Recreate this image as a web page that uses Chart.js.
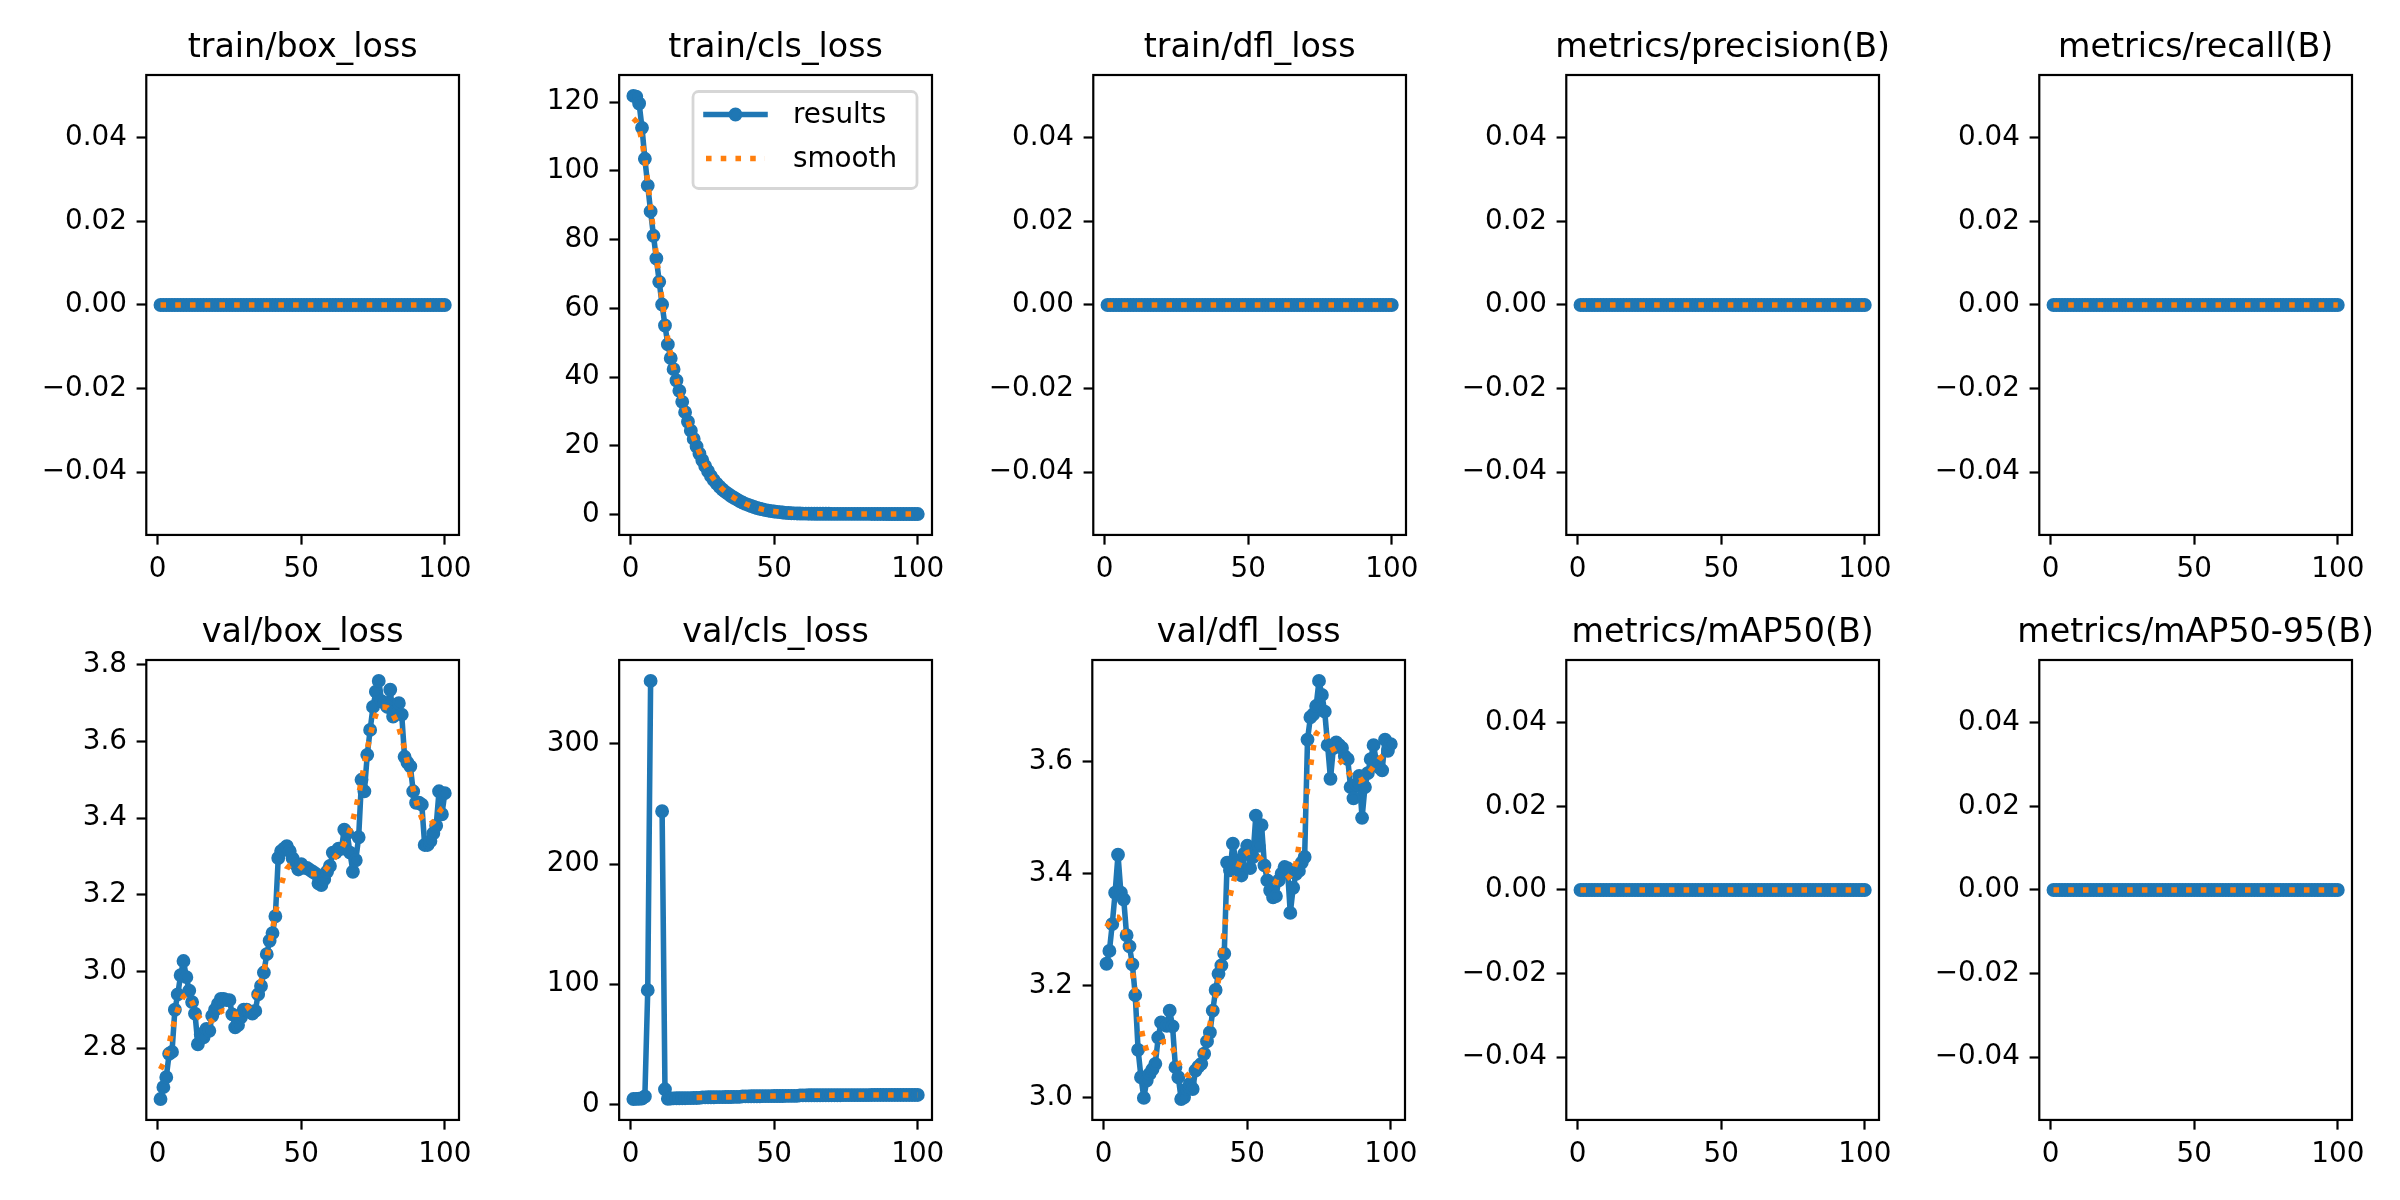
<!DOCTYPE html>
<html>
<head>
<meta charset="utf-8">
<script src="https://cdn.jsdelivr.net/npm/chart.js@4.4.1/dist/chart.umd.min.js"></script>
<style>
html, body { margin: 0; padding: 0; background: #ffffff; width: 2400px; height: 1200px; overflow: hidden; position: relative; }
canvas { position: absolute; }
</style>
</head>
<body>
<script>
// ---------------- DATA ----------------
const epochs = [
  1,2,3,4,5,6,7,8,9,10,
  11,12,13,14,15,16,17,18,19,20,
  21,22,23,24,25,26,27,28,29,30,
  31,32,33,34,35,36,37,38,39,40,
  41,42,43,44,45,46,47,48,49,50,
  51,52,53,54,55,56,57,58,59,60,
  61,62,63,64,65,66,67,68,69,70,
  71,72,73,74,75,76,77,78,79,80,
  81,82,83,84,85,86,87,88,89,90,
  91,92,93,94,95,96,97,98,99,100
];

const zeroSeries = [
  0,0,0,0,0,0,0,0,0,0,
  0,0,0,0,0,0,0,0,0,0,
  0,0,0,0,0,0,0,0,0,0,
  0,0,0,0,0,0,0,0,0,0,
  0,0,0,0,0,0,0,0,0,0,
  0,0,0,0,0,0,0,0,0,0,
  0,0,0,0,0,0,0,0,0,0,
  0,0,0,0,0,0,0,0,0,0,
  0,0,0,0,0,0,0,0,0,0,
  0,0,0,0,0,0,0,0,0,0
];

const trainClsLoss = [
  121.8,121.6,119.6,112.5,103.5,95.7,88.2,81.1,74.5,67.7,
  61.1,55.0,49.5,45.5,42.3,39.0,36.0,32.8,29.8,27.0,
  24.4,22.0,19.8,17.7,15.8,14.1,12.6,11.2,10.0,9.0,
  8.1,7.3,6.6,6.0,5.4,4.9,4.4,3.9,3.5,3.1,
  2.8,2.5,2.2,1.9,1.7,1.5,1.3,1.15,1.0,0.9,
  0.8,0.7,0.6,0.5,0.45,0.4,0.36,0.33,0.3,0.28,
  0.27,0.26,0.26,0.25,0.25,0.24,0.24,0.23,0.23,0.22,
  0.22,0.22,0.21,0.21,0.21,0.2,0.2,0.2,0.2,0.19,
  0.19,0.19,0.19,0.18,0.18,0.18,0.18,0.18,0.17,0.17,
  0.17,0.17,0.17,0.17,0.16,0.16,0.16,0.16,0.16,0.16
];
const trainClsSmooth = [
  115.2,114.4,112.3,108.6,103.4,96.8,89.6,82.4,75.4,68.7,
  62.3,56.4,51.0,46.5,42.7,39.3,36.1,33.0,30.1,27.3,
  24.7,22.3,20.1,18.0,16.1,14.4,12.9,11.5,10.3,9.2,
  8.3,7.4,6.7,6.0,5.4,4.9,4.4,3.95,3.55,3.15,
  2.8,2.5,2.2,1.95,1.72,1.52,1.34,1.18,1.04,0.92,
  0.81,0.71,0.62,0.55,0.49,0.44,0.39,0.35,0.32,0.3,
  0.28,0.27,0.26,0.25,0.25,0.24,0.24,0.23,0.23,0.22,
  0.22,0.22,0.21,0.21,0.21,0.2,0.2,0.2,0.2,0.19,
  0.19,0.19,0.19,0.18,0.18,0.18,0.18,0.18,0.17,0.17,
  0.17,0.17,0.17,0.17,0.17,0.16,0.16,0.16,0.16,0.16
];

const valBoxLoss = [
  2.667,2.698,2.724,2.785,2.79,2.90,2.94,2.99,3.027,2.985,
  2.95,2.92,2.89,2.81,2.836,2.828,2.85,2.845,2.884,2.90,
  2.915,2.928,2.928,2.925,2.925,2.888,2.854,2.86,2.88,2.90,
  2.90,2.895,2.89,2.897,2.94,2.962,2.997,3.045,3.08,3.10,
  3.144,3.296,3.314,3.32,3.327,3.314,3.295,3.28,3.266,3.28,
  3.27,3.27,3.265,3.26,3.255,3.23,3.225,3.24,3.26,3.275,
  3.31,3.31,3.32,3.32,3.37,3.36,3.31,3.26,3.29,3.35,
  3.50,3.47,3.565,3.63,3.69,3.73,3.758,3.705,3.70,3.69,
  3.735,3.665,3.68,3.70,3.67,3.56,3.545,3.535,3.47,3.44,
  3.44,3.435,3.33,3.33,3.34,3.36,3.38,3.47,3.41,3.465
];
const valBoxSmooth = [
  2.745,2.76,2.78,2.81,2.845,2.875,2.90,2.92,2.935,2.94,
  2.935,2.92,2.90,2.885,2.875,2.87,2.868,2.868,2.872,2.88,
  2.89,2.895,2.898,2.897,2.894,2.89,2.888,2.888,2.892,2.898,
  2.903,2.91,2.92,2.935,2.955,2.975,3.0,3.035,3.07,3.11,
  3.15,3.19,3.225,3.25,3.268,3.277,3.28,3.28,3.278,3.272,
  3.265,3.26,3.256,3.255,3.255,3.256,3.258,3.262,3.27,3.28,
  3.29,3.30,3.31,3.32,3.335,3.35,3.37,3.395,3.425,3.46,
  3.50,3.54,3.58,3.615,3.645,3.67,3.685,3.69,3.69,3.688,
  3.68,3.67,3.655,3.635,3.61,3.58,3.545,3.51,3.475,3.445,
  3.42,3.40,3.39,3.385,3.385,3.39,3.40,3.415,3.425,3.43
];

const valClsLoss = [
  4.4,4.5,4.6,4.8,6.5,95,352.5,null,null,null,
  244,12.5,4.6,4.8,4.9,5.0,5.0,5.1,5.1,5.2,
  5.2,5.3,5.3,5.4,5.8,5.8,5.9,5.9,5.9,6.0,
  6.0,6.0,6.1,6.1,6.1,6.2,6.2,6.2,6.6,6.6,
  6.6,6.7,6.7,6.7,6.7,6.8,6.8,6.8,6.8,6.9,
  6.9,6.9,6.9,7.0,7.0,7.0,7.0,7.0,7.4,7.4,
  7.4,7.5,7.5,7.5,7.5,7.5,7.6,7.6,7.6,7.6,
  7.6,7.6,7.6,7.7,7.7,7.7,7.7,7.7,7.7,7.7,
  7.7,7.7,7.7,7.8,7.8,7.8,7.8,7.8,7.8,7.8,
  7.8,7.8,7.8,7.8,7.8,7.8,7.8,7.8,7.8,7.8
];
const valClsSmooth = [
  null,null,null,null,null,null,null,null,null,null,
  null,null,null,null,null,null,null,null,null,null,
  null,null,5.6,5.65,5.7,5.75,5.8,5.85,5.9,5.95,
  6.0,6.05,6.1,6.15,6.2,6.25,6.3,6.35,6.4,6.45,
  6.5,6.55,6.6,6.65,6.7,6.75,6.8,6.82,6.85,6.88,
  6.9,6.93,6.96,7.0,7.05,7.1,7.15,7.2,7.25,7.3,
  7.35,7.4,7.45,7.5,7.52,7.55,7.57,7.6,7.6,7.62,
  7.63,7.64,7.65,7.66,7.67,7.68,7.69,7.7,7.7,7.71,
  7.72,7.73,7.74,7.75,7.76,7.77,7.78,7.78,7.79,7.79,
  7.8,7.8,7.8,7.8,7.8,7.8,7.8,7.8,7.8,7.8
];

const valDflLoss = [
  3.239,3.262,3.31,3.366,3.434,3.366,3.354,3.29,3.27,3.238,
  3.183,3.085,3.036,2.999,3.03,3.042,3.05,3.06,3.107,3.134,
  3.13,3.128,3.155,3.127,3.054,3.036,2.997,3.0,3.015,3.024,
  3.015,3.048,3.055,3.06,3.078,3.10,3.116,3.155,3.192,3.221,
  3.236,3.257,3.42,3.406,3.454,3.424,3.41,3.397,3.436,3.45,
  3.41,3.43,3.504,3.45,3.487,3.415,3.388,3.37,3.358,3.36,
  3.388,3.40,3.412,3.41,3.33,3.375,3.40,3.405,3.42,3.43,
  3.64,3.68,3.685,3.70,3.745,3.72,3.69,3.63,3.57,3.625,
  3.635,3.63,3.625,3.61,3.605,3.555,3.535,3.56,3.575,3.50,
  3.555,3.58,3.605,3.63,3.60,3.59,3.585,3.64,3.62,3.632
];
const valDflSmooth = [
  3.305,3.312,3.318,3.322,3.322,3.315,3.302,3.28,3.255,3.225,
  3.19,3.155,3.125,3.10,3.083,3.075,3.074,3.08,3.09,3.097,
  3.10,3.10,3.097,3.088,3.076,3.063,3.052,3.045,3.04,3.039,
  3.042,3.05,3.06,3.074,3.09,3.107,3.13,3.155,3.18,3.21,
  3.255,3.30,3.335,3.36,3.382,3.40,3.415,3.427,3.434,3.438,
  3.439,3.437,3.434,3.43,3.425,3.415,3.405,3.395,3.388,3.385,
  3.384,3.385,3.388,3.392,3.397,3.405,3.42,3.45,3.48,3.515,
  3.55,3.59,3.625,3.65,3.657,3.657,3.652,3.642,3.632,3.622,
  3.612,3.605,3.598,3.59,3.583,3.577,3.572,3.568,3.566,3.568,
  3.572,3.578,3.585,3.592,3.598,3.605,3.61,3.614,3.617,3.618
];

const panelTitles = [
  'train/box_loss', 'train/cls_loss', 'train/dfl_loss', 'metrics/precision(B)', 'metrics/recall(B)',
  'val/box_loss', 'val/cls_loss', 'val/dfl_loss', 'metrics/mAP50(B)', 'metrics/mAP50-95(B)'
];
const seriesLabels = ['results', 'smooth'];

const xTicks = [0, 50, 100];
const xTickLabels = ['0', '50', '100'];

const zeroTicks = [-0.04, -0.02, 0, 0.02, 0.04];
const zeroTickLabels = ['\u22120.04', '\u22120.02', '0.00', '0.02', '0.04'];
const trainClsTicks = [0, 20, 40, 60, 80, 100, 120];
const trainClsTickLabels = ['0', '20', '40', '60', '80', '100', '120'];
const valBoxTicks = [2.8, 3.0, 3.2, 3.4, 3.6, 3.8];
const valBoxTickLabels = ['2.8', '3.0', '3.2', '3.4', '3.6', '3.8'];
const valClsTicks = [0, 100, 200, 300];
const valClsTickLabels = ['0', '100', '200', '300'];
const valDflTicks = [3.0, 3.2, 3.4, 3.6];
const valDflTickLabels = ['3.0', '3.2', '3.4', '3.6'];

// ---------------- STYLE / LAYOUT ----------------
const FONT = '"DejaVu Sans", "Liberation Sans", sans-serif';
const BLUE = '#1f77b4';
const ORANGE = '#ff7f0e';
const LW = 5.56;
const TICK_FONT = 27.8;
const TITLE_FONT = 33.3;
const AREA_W = 313;
const AREA_H = 459.5;
const colLeft = [146, 619.4, 1092.8, 1566.2, 2039.6];
const rowTop = [75.2, 659.5];

const panels = [
  { results: zeroSeries,   smooth: zeroSeries,     yTicks: zeroTicks,     yLabels: zeroTickLabels, legend: false },
  { results: trainClsLoss, smooth: trainClsSmooth, yTicks: trainClsTicks, yLabels: trainClsTickLabels, legend: true },
  { results: zeroSeries,   smooth: zeroSeries,     yTicks: zeroTicks,     yLabels: zeroTickLabels, legend: false },
  { results: zeroSeries,   smooth: zeroSeries,     yTicks: zeroTicks,     yLabels: zeroTickLabels, legend: false },
  { results: zeroSeries,   smooth: zeroSeries,     yTicks: zeroTicks,     yLabels: zeroTickLabels, legend: false },
  { results: valBoxLoss,   smooth: valBoxSmooth,   yTicks: valBoxTicks,   yLabels: valBoxTickLabels, legend: false },
  { results: valClsLoss,   smooth: valClsSmooth,   yTicks: valClsTicks,   yLabels: valClsTickLabels, legend: false },
  { results: valDflLoss,   smooth: valDflSmooth,   yTicks: valDflTicks,   yLabels: valDflTickLabels, legend: false },
  { results: zeroSeries,   smooth: zeroSeries,     yTicks: zeroTicks,     yLabels: zeroTickLabels, legend: false },
  { results: zeroSeries,   smooth: zeroSeries,     yTicks: zeroTicks,     yLabels: zeroTickLabels, legend: false }
];

// matplotlib-like autoscale: 5% margins, flat data expanded
function autoRange(arrays) {
  const vals = [];
  arrays.forEach(a => a.forEach(v => { if (v !== null && v !== undefined) vals.push(v); }));
  let lo = Math.min(...vals), hi = Math.max(...vals);
  if (hi - lo === 0) {
    const d = lo === 0 ? 0.05 : Math.abs(lo) * 0.05;
    lo -= d; hi += d;
  }
  const m = (hi - lo) * 0.05;
  return [lo - m, hi + m];
}

// ---------------- PLUGINS ----------------
const framePlugin = {
  id: 'axesFrame',
  afterDatasetsDraw(chart) {
    const { ctx, chartArea: a } = chart;
    ctx.save();
    ctx.strokeStyle = '#000000';
    ctx.lineWidth = 2.2;
    ctx.strokeRect(a.left, a.top, a.right - a.left, a.bottom - a.top);
    ctx.restore();
  }
};

const titlePlugin = {
  id: 'panelTitle',
  afterDraw(chart, args, opts) {
    if (!opts || !opts.text) return;
    const { ctx, chartArea: a } = chart;
    ctx.save();
    ctx.fillStyle = '#000000';
    ctx.font = TITLE_FONT + 'px ' + FONT;
    ctx.textAlign = 'center';
    ctx.textBaseline = 'alphabetic';
    ctx.fillText(opts.text, (a.left + a.right) / 2, a.top - 18);
    ctx.restore();
  }
};

function roundRectPath(ctx, x, y, w, h, r) {
  ctx.beginPath();
  ctx.moveTo(x + r, y);
  ctx.lineTo(x + w - r, y);
  ctx.arcTo(x + w, y, x + w, y + r, r);
  ctx.lineTo(x + w, y + h - r);
  ctx.arcTo(x + w, y + h, x + w - r, y + h, r);
  ctx.lineTo(x + r, y + h);
  ctx.arcTo(x, y + h, x, y + h - r, r);
  ctx.lineTo(x, y + r);
  ctx.arcTo(x, y, x + r, y, r);
  ctx.closePath();
}

const insideLegendPlugin = {
  id: 'insideLegend',
  afterDraw(chart, args, opts) {
    if (!opts || !opts.show) return;
    const { ctx, chartArea: a } = chart;
    const bw = 224, bh = 97;
    const bx = a.right - 15 - bw, by = a.top + 16.5;
    ctx.save();
    roundRectPath(ctx, bx, by, bw, bh, 5.5);
    ctx.fillStyle = 'rgba(255,255,255,0.8)';
    ctx.fill();
    ctx.lineWidth = 2.78;
    ctx.strokeStyle = 'rgba(204,204,204,0.8)';
    ctx.stroke();
    chart.data.datasets.forEach((ds, i) => {
      const y = by + 23 + i * 44;
      const x0 = bx + 13, x1 = bx + 72;
      ctx.beginPath();
      const dashed = ds.borderDash && ds.borderDash.length;
      ctx.setLineDash(dashed ? ds.borderDash : []);
      ctx.lineCap = dashed ? 'butt' : 'square';
      ctx.lineWidth = ds.borderWidth;
      ctx.strokeStyle = ds.borderColor;
      ctx.moveTo(x0, y);
      ctx.lineTo(x1, y);
      ctx.stroke();
      ctx.setLineDash([]);
      if (ds.pointRadius > 0) {
        ctx.beginPath();
        ctx.arc((x0 + x1) / 2, y, ds.pointRadius, 0, Math.PI * 2);
        ctx.fillStyle = ds.pointBackgroundColor;
        ctx.fill();
        ctx.lineWidth = ds.pointBorderWidth;
        ctx.strokeStyle = ds.pointBorderColor;
        ctx.stroke();
      }
      ctx.fillStyle = '#000000';
      ctx.font = TICK_FONT + 'px ' + FONT;
      ctx.textAlign = 'left';
      ctx.textBaseline = 'middle';
      ctx.fillText(ds.label, bx + 100, y + 1);
    });
    ctx.restore();
  }
};

// ---------------- CHART BUILDING ----------------
function buildConfig(p, idx) {
  const [ymin, ymax] = autoRange([p.results, p.smooth]);
  const [xmin, xmax] = autoRange([epochs]);
  const tickFont = { family: FONT, size: TICK_FONT, weight: 'normal' };
  const gridOpts = { display: true, drawOnChartArea: false, drawTicks: true, tickLength: 9.7, tickWidth: 2.2, tickColor: '#000000' };
  return {
    type: 'line',
    data: {
      datasets: [
        {
          label: seriesLabels[0],
          data: epochs.map((e, i) => ({ x: e, y: p.results[i] })),
          borderColor: BLUE,
          backgroundColor: BLUE,
          borderWidth: LW,
          borderJoinStyle: 'round',
          borderCapStyle: 'square',
          pointRadius: 5.55,
          pointBorderWidth: 2.78,
          pointBackgroundColor: BLUE,
          pointBorderColor: BLUE,
          pointHoverRadius: 5.55,
          tension: 0,
          spanGaps: false,
          fill: false,
          order: 2
        },
        {
          label: seriesLabels[1],
          data: epochs.map((e, i) => ({ x: e, y: p.smooth[i] })),
          borderColor: ORANGE,
          backgroundColor: ORANGE,
          borderWidth: LW,
          borderDash: [5.56, 9.17],
          borderCapStyle: 'butt',
          pointRadius: 0,
          pointHoverRadius: 0,
          tension: 0,
          spanGaps: false,
          fill: false,
          order: 1
        }
      ]
    },
    options: {
      responsive: false,
      maintainAspectRatio: false,
      animation: false,
      devicePixelRatio: 1,
      events: [],
      layout: { padding: { top: 60, right: 34, bottom: 4, left: 4 } },
      plugins: {
        legend: { display: false },
        tooltip: { enabled: false },
        title: { display: false },
        panelTitle: { text: panelTitles[idx] },
        insideLegend: { show: p.legend }
      },
      scales: {
        x: {
          type: 'linear',
          position: 'bottom',
          bounds: 'data',
          min: xmin,
          max: xmax,
          afterBuildTicks: s => { s.ticks = xTicks.map(v => ({ value: v })); },
          ticks: {
            autoSkip: false,
            maxRotation: 0,
            minRotation: 0,
            padding: 8,
            color: '#000000',
            font: tickFont,
            callback: (v, i) => xTickLabels[i]
          },
          grid: gridOpts,
          border: { display: false }
        },
        y: {
          type: 'linear',
          position: 'left',
          bounds: 'data',
          min: ymin,
          max: ymax,
          afterBuildTicks: s => { s.ticks = p.yTicks.map(v => ({ value: v })); },
          ticks: {
            autoSkip: false,
            padding: 9.7,
            color: '#000000',
            font: tickFont,
            callback: (v, i) => p.yLabels[i]
          },
          grid: gridOpts,
          border: { display: false }
        }
      }
    },
    plugins: [framePlugin, titlePlugin, insideLegendPlugin]
  };
}

function makeCanvas(w, h) {
  const c = document.createElement('canvas');
  c.width = w; c.height = h;
  c.style.width = w + 'px';
  c.style.height = h + 'px';
  document.body.appendChild(c);
  return c;
}

panels.forEach((p, idx) => {
  const col = idx % 5, row = Math.floor(idx / 5);
  const targetLeft = colLeft[col], targetTop = rowTop[row];
  const W0 = 520, H0 = 600;
  let canvas = makeCanvas(W0, H0);
  let chart = new Chart(canvas, buildConfig(p, idx));
  const a = chart.chartArea;
  const W1 = Math.round(W0 + AREA_W - (a.right - a.left));
  const H1 = Math.round(H0 + AREA_H - (a.bottom - a.top));
  chart.destroy();
  canvas.remove();
  canvas = makeCanvas(W1, H1);
  chart = new Chart(canvas, buildConfig(p, idx));
  const b = chart.chartArea;
  canvas.style.left = Math.round(targetLeft - b.left) + 'px';
  canvas.style.top = Math.round(targetTop - b.top) + 'px';
});
</script>
</body>
</html>
